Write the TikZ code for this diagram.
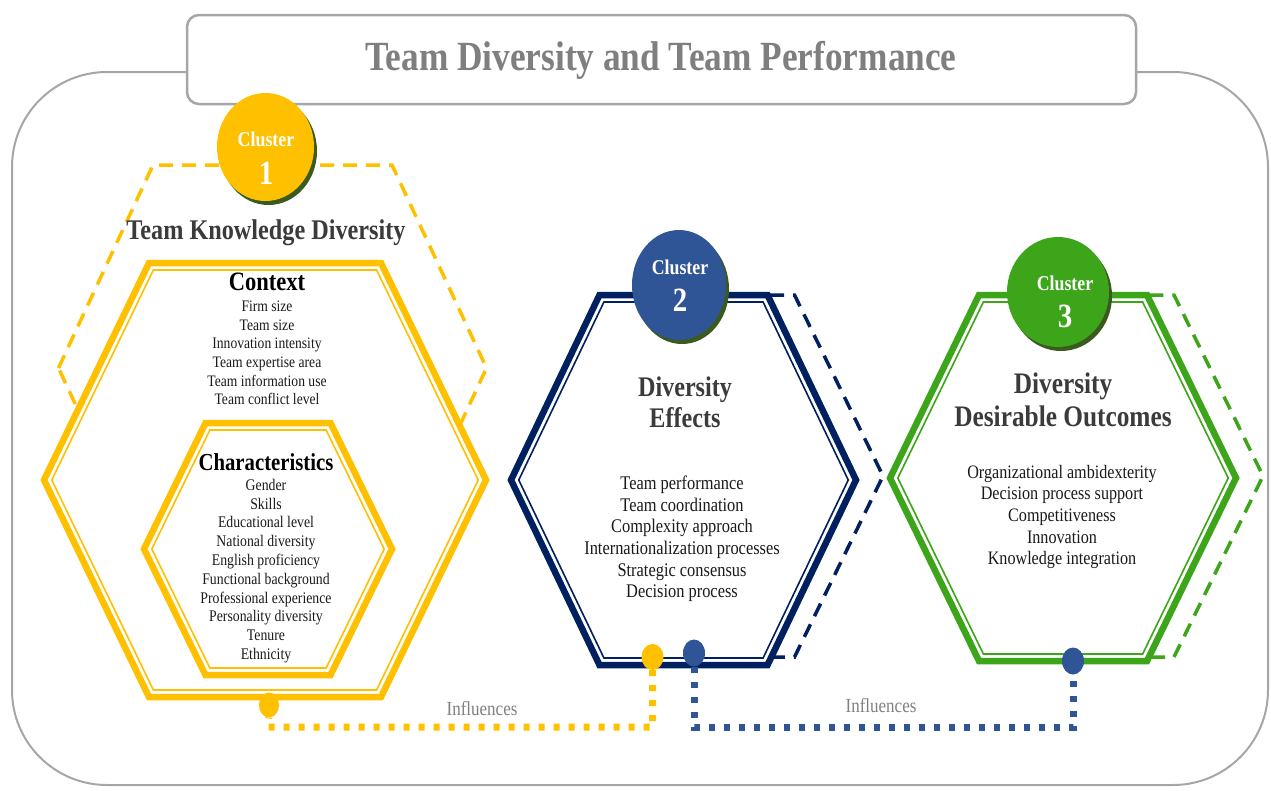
\documentclass[tikz,border=0pt]{standalone}
\usepackage{fontspec}
\setmainfont{Liberation Serif}[FakeStretch=0.85]
\usetikzlibrary{shapes.geometric}
\definecolor{cyel}{HTML}{FFC000}
\definecolor{cnavy}{HTML}{002060}
\definecolor{cblue}{HTML}{2F5597}
\definecolor{cgreen}{HTML}{3CA51A}
\definecolor{cshadow}{HTML}{3A5A1E}
\definecolor{cframe}{HTML}{A6A6A6}
\definecolor{ctitle}{HTML}{7F7F7F}
\definecolor{chead}{HTML}{3B3B3B}
\definecolor{ctext}{HTML}{1A1A1A}
\newcommand\fs[2]{\fontsize{#1}{#2}\selectfont}
% #1 style, #2 cx, #3 cy, #4 half width, #5 half height, #6 half top
\newcommand\hexdraw[6]{%
  \draw[#1] ({#2-#4},{#3}) -- ({#2-#6},{#3-#5}) -- ({#2+#6},{#3-#5}) --
    ({#2+#4},{#3}) -- ({#2+#6},{#3+#5}) -- ({#2-#6},{#3+#5}) -- cycle;}
\newcommand\hexdouble[6]{%
  \hexdraw{draw=#1, line width=6.5pt, fill=white, line join=miter}{#2}{#3}{#4}{#5}{#6}
  \pgfmathsetmacro\hxphi{atan((#4-#6)/#5)}
  \pgfmathsetmacro\hxw{#4-7/cos(\hxphi)}
  \pgfmathsetmacro\hxh{#5-7}
  \pgfmathsetmacro\hxt{\hxw-((#4-#6)/#5)*\hxh}
  \hexdraw{draw=#1, line width=1.6pt, line join=miter}{#2}{#3}{\hxw}{\hxh}{\hxt}}
\begin{document}
\begin{tikzpicture}[x=1pt, y=-1pt,
  every node/.style={inner sep=0pt, outer sep=0pt},
  hexdash/.style={line width=3.5pt, dash pattern=on 14pt off 9pt},
  ball/.style={ellipse, inner sep=0pt},
  cltxt/.style={font=\bfseries\fs{21}{24}, text=white},
  clnum/.style={font=\bfseries\fs{34}{38}, text=white},
  heading/.style={font=\bfseries\fs{28.5}{31}, text=chead, align=center},
  subhead/.style={font=\bfseries\fs{26.5}{29}, text=black, align=center},
  items/.style={text=ctext, align=center},
  dotline/.style={line width=7pt, dash pattern=on 6pt off 9pt},
  infl/.style={font=\fs{20}{22}, text=ctitle}]
\useasboundingbox (0,0) rectangle (1271,790);
% outer frame
\draw[cframe, line width=2pt, rounded corners=95pt] (12,72) rectangle (1268,785);
% title
\node[draw=cframe, line width=2.5pt, fill=white, rounded corners=12pt,
  minimum width=949pt, minimum height=89pt] (title) at (661.5,59.5) {};
\node[font=\bfseries\fs{41.5}{45}, text=ctitle] (titletext) at (661,60) {Team Diversity and Team Performance};
% dashed hexagons
\hexdraw{cyel, hexdash}{272.5}{368}{214}{203}{119.5}
\hexdraw{cnavy, hexdash}{710.5}{476}{172.5}{181}{84}
\hexdraw{cgreen, hexdash}{1090}{476}{173}{181}{84}
% solid hexagons
\hexdouble{cyel}{265}{480}{221}{217}{116}
\hexdouble{cyel}{268}{549}{124}{126}{62.5}
\hexdouble{cnavy}{683.5}{480}{172.5}{185}{84}
\hexdouble{cgreen}{1063}{478}{173}{183}{84}
% cluster balls
\node[ball, fill=cshadow, minimum width=97pt, minimum height=108pt] (c1s) at (268.5,151) {};
\node[ball, fill=cyel, minimum width=97pt, minimum height=108pt] (c1) at (265.5,147) {};
\node[cltxt] (c1a) at (266,139) {Cluster};
\node[clnum] (c1b) at (266,173) {1};
\node[ball, fill=cshadow, minimum width=94pt, minimum height=110pt] (c2s) at (682,289) {};
\node[ball, fill=cblue, minimum width=94pt, minimum height=110pt] (c2) at (679,285) {};
\node[cltxt] (c2a) at (680,267) {Cluster};
\node[clnum] (c2b) at (680,300) {2};
\node[ball, fill=cshadow, minimum width=102pt, minimum height=110pt] (c3s) at (1061,296) {};
\node[ball, fill=cgreen, minimum width=102pt, minimum height=110pt] (c3) at (1058,292) {};
\node[cltxt] (c3a) at (1065,283) {Cluster};
\node[clnum] (c3b) at (1065,316) {3};
% texts cluster 1
\node[heading] (tkd) at (266,233) {Team Knowledge Diversity};
\node[subhead] (ctx) at (267,282) {Context};
\node[items, font=\fs{16}{18.7}] (ctxi) at (267,353) {Firm size\\Team size\\Innovation intensity\\Team expertise area\\Team information use\\Team conflict level};
\node[subhead, font=\bfseries\fs{24.4}{27}] (chr) at (266,462) {Characteristics};
\node[items, font=\fs{16.2}{18.8}] (chri) at (266,571) {Gender\\Skills\\Educational level\\National diversity\\English proficiency\\Functional background\\Professional experience\\Personality diversity\\Tenure\\Ethnicity};
% texts cluster 2
\node[heading, font=\bfseries\fs{28.4}{31}] (de) at (685,402) {Diversity\\Effects};
\node[items, font=\fs{19.3}{21.7}] (dei) at (682,539) {Team performance\\Team coordination\\Complexity approach\\Internationalization processes\\Strategic consensus\\Decision process};
% texts cluster 3
\node[heading, font=\bfseries\fs{29.8}{33.5}] (ddo) at (1063,400) {Diversity\\Desirable Outcomes};
\node[items, font=\fs{19}{21.6}] (ddoi) at (1062,517) {Organizational ambidexterity\\Decision process support\\Competitiveness\\Innovation\\Knowledge integration};
% connectors
\coordinate (yk1) at (268,727);
\coordinate (yk2) at (652.5,727);
\coordinate (bk1) at (694,727);
\coordinate (bk2) at (1073,727);
\node[ball, fill=cyel, minimum width=20pt, minimum height=25pt] (yd1) at (269,705) {};
\node[ball, fill=cyel, minimum width=22pt, minimum height=26pt] (yd2) at (652.5,657) {};
\node[ball, fill=cblue, minimum width=22pt, minimum height=27pt] (bd1) at (694,653) {};
\node[ball, fill=cblue, minimum width=22pt, minimum height=27pt] (bd2) at (1073,661) {};
\draw[cyel, dotline] (yd2.south) -- (yk2) -- (yk1) -- (yd1.south);
\draw[cblue, dotline] (bd1.south) -- (bk1) -- (bk2) -- (bd2.south);
\node[infl] (inf1) at (482,709) {Influences};
\node[infl] (inf2) at (881,706) {Influences};
\end{tikzpicture}
\end{document}
